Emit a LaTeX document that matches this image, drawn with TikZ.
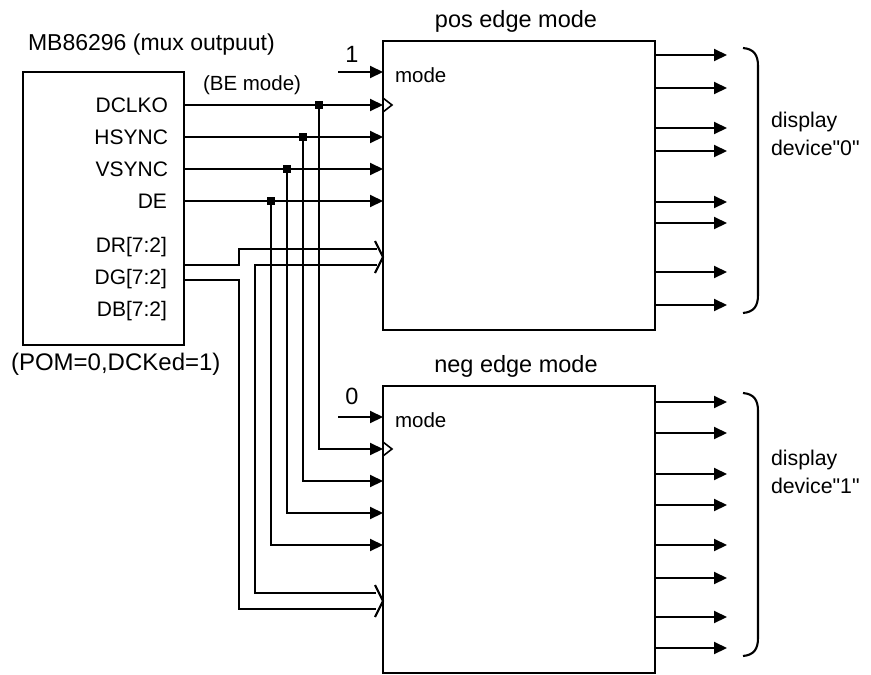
\documentclass[tikz,border=0pt]{standalone}
\usepackage{fontspec}
\setmainfont{Liberation Sans}
\usetikzlibrary{arrows.meta}
\begin{document}
\begin{tikzpicture}[x=1pt,y=-1pt,line width=2.1pt,line join=miter,
  blk/.style={draw,inner sep=0pt,outer sep=0pt},
  sig/.style={-{Triangle[length=13pt,width=12pt]}},
  bus/.style={line width=2.1pt},
  dot/.style={fill=black,inner sep=0pt,outer sep=0pt,minimum size=8pt},
  clk/.style={line width=1.6pt},
  pin/.style={font=\fontsize{21}{25}\selectfont,anchor=base east,inner sep=0pt},
  big/.style={font=\fontsize{24}{28}\selectfont,inner sep=0pt},
  mid/.style={font=\fontsize{23.5}{26}\selectfont,inner sep=0pt},
  dev/.style={font=\fontsize{21.3}{28}\selectfont,inner sep=0pt,anchor=base west,align=left}]
\useasboundingbox (0,0) rectangle (871,675);
% boxes
\node[blk,minimum width=161pt,minimum height=273pt] (mb) at (103.5,208.5) {};
\node[blk,minimum width=272pt,minimum height=289pt] (pos) at (519,185.5) {};
\node[blk,minimum width=272pt,minimum height=287pt] (neg) at (519,529.5) {};
% titles
\node[big,font=\fontsize{23}{28}\selectfont,anchor=base west] (ttl) at (27,50) {MB86296 (mux outpuut)};
\node[big,anchor=base west] (pom) at (10,370) {(POM=0,DCKed=1)};
\node[mid,anchor=base] (post) at (516,27) {pos edge mode};
\node[mid,anchor=base] (negt) at (516,372) {neg edge mode};
\node[font=\fontsize{20.5}{24}\selectfont,inner sep=0pt,anchor=base west] (be) at (202,90) {(BE mode)};
% pin labels
\node[pin] (lclk) at (169,112) {DCLKO};
\node[pin] (lhs) at (169,144) {HSYNC};
\node[pin] (lvs) at (169,176) {VSYNC};
\node[pin] (lde) at (168,208) {DE};
\node[pin] (ldr) at (168,252) {DR[7:2]};
\node[pin] (ldg) at (168,284) {DG[7:2]};
\node[pin] (ldb) at (168,316) {DB[7:2]};
% mode inputs
\node[mid] (one) at (352,54) {1};
\node[mid] (zero) at (352,396) {0};
\node[font=\fontsize{20.5}{24}\selectfont,inner sep=0pt,anchor=base west] (pm) at (394,82) {mode};
\node[font=\fontsize{20.5}{24}\selectfont,inner sep=0pt,anchor=base west] (nm) at (394,427) {mode};
\coordinate (pmi) at (338,72);
\coordinate (nmi) at (338,417);
\draw[sig] (pmi) -- (pos.west |- pmi);
\draw[sig] (nmi) -- (neg.west |- nmi);
% junctions
\node[dot] (jclk) at (319,105) {};
\node[dot] (jhs) at (303,137) {};
\node[dot] (jvs) at (287,169) {};
\node[dot] (jde) at (271,201) {};
% signals to pos box
\draw[sig] (mb.east |- jclk) -- (pos.west |- jclk);
\draw[sig] (mb.east |- jhs) -- (pos.west |- jhs);
\draw[sig] (mb.east |- jvs) -- (pos.west |- jvs);
\draw[sig] (mb.east |- jde) -- (pos.west |- jde);
% signals to neg box
\draw[sig] (jclk.center) -- (319,449) -- (neg.west |- 0,449);
\draw[sig] (jhs.center) -- (303,481) -- (neg.west |- 0,481);
\draw[sig] (jvs.center) -- (287,513) -- (neg.west |- 0,513);
\draw[sig] (jde.center) -- (271,545) -- (neg.west |- 0,545);
% clock triangles
\draw[clk] (pos.west |- 0,98) -- (392,105) -- (pos.west |- 0,112);
\draw[clk] (neg.west |- 0,442) -- (392,449) -- (neg.west |- 0,456);
% RGB bus
\draw[bus] (mb.east |- 0,265) -- (239,265) -- (239,249) -- (377,249);
\draw[bus] (377,265) -- (255,265) -- (255,593) -- (376,593);
\draw[bus] (mb.east |- 0,280) -- (239,280) -- (239,609) -- (376,609);
\draw[bus] (375,241) -- (pos.west |- 0,257) -- (375,273);
\draw[bus] (375,585) -- (neg.west |- 0,601) -- (375,617);
% outputs
\foreach \y in {55,88,128,151,202,223,272,305}
  \draw[sig] (pos.east |- 0,\y) -- (727,\y);
\foreach \y in {402,433,474,505,545,578,617,648}
  \draw[sig] (neg.east |- 0,\y) -- (727,\y);
% braces
\draw (743,48) .. controls (754,49) and (758,55) .. (758,66) -- (758,295) .. controls (758,306) and (754,312) .. (743,313);
\draw (743,393) .. controls (754,394) and (758,400) .. (758,411) -- (758,638) .. controls (758,649) and (754,655) .. (743,656);
\node[dev] (d0) at (770,155) {display\\device\textquotedbl 0\textquotedbl};
\node[dev] (d1) at (770,493) {display\\device\textquotedbl 1\textquotedbl};
\end{tikzpicture}
\end{document}
